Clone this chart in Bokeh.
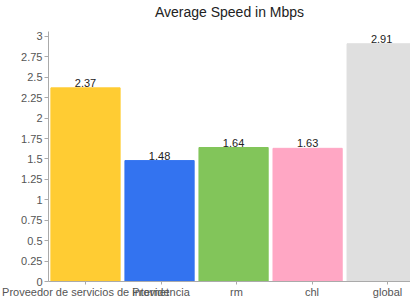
from bokeh.plotting import figure
from bokeh.models import Range1d, FixedTicker, ColumnDataSource, LinearAxis
from bokeh.core.properties import value
from bokeh.embed import file_html
from bokeh.resources import INLINE

title_text = "Average Speed in Mbps"
categories = ["Proveedor de servicios de internet", "Providencia", "rm", "chl", "global"]
speeds = [2.37, 1.48, 1.64, 1.63, 2.91]
colors = ["#FFCC33", "#3373F0", "#82C55A", "#FFA7C4", "#DFDFDF"]
y_ticks = [0, 0.25, 0.5, 0.75, 1, 1.25, 1.5, 1.75, 2, 2.25, 2.5, 2.75, 3]

xs = list(range(len(categories)))
labels = ["%.2f" % v for v in speeds]
src = ColumnDataSource(dict(x=xs, top=speeds, color=colors, label=labels))

p = figure(width=410, height=300, output_backend="svg", toolbar_location=None,
           x_range=Range1d(-0.5, 4.39), y_range=Range1d(0, 3.06),
           min_border_left=48, min_border_right=0, min_border_bottom=19, min_border_top=31)

# title drawn as the label of an empty axis above the frame
top_axis = LinearAxis(axis_label=title_text, ticker=FixedTicker(ticks=[]),
                      axis_line_color=None, major_tick_line_color=None,
                      minor_tick_line_color=None, major_tick_out=0, major_tick_in=0,
                      major_label_text_font_size="0px", major_label_standoff=0,
                      axis_label_standoff=12, axis_label_text_font="Liberation Sans",
                      axis_label_text_font_size="14px", axis_label_text_font_style="normal",
                      axis_label_text_color="#222222")
p.add_layout(top_axis, "above")

p.vbar(x="x", top="top", width=0.935, bottom=0, color="color", source=src)
p.text(x="x", y="top", text="label", source=src, text_align="center", text_baseline="bottom",
       y_offset=-1, text_font=value("Liberation Sans"), text_font_size="11px", text_color="#222222")

p.grid.visible = False
p.outline_line_color = None
p.background_fill_color = "white"
p.border_fill_color = "white"

tick_pos = [i * 1.02 for i in xs]
xaxis = p.below[0]
xaxis.ticker = FixedTicker(ticks=tick_pos)
xaxis.major_label_overrides = {t: c for t, c in zip(tick_pos, categories)}
xaxis.minor_tick_line_color = None
xaxis.major_tick_in = 0
xaxis.major_tick_out = 3
xaxis.major_label_standoff = 1

yaxis = p.left[0]
yaxis.ticker = FixedTicker(ticks=y_ticks)
yaxis.major_label_overrides = {t: ("%g" % t) for t in y_ticks}
yaxis.minor_tick_line_color = None
yaxis.major_tick_in = 0
yaxis.major_tick_out = 4
yaxis.major_label_standoff = 2

for ax in (xaxis, yaxis):
    ax.axis_line_color = "#AAAAAA"
    ax.major_tick_line_color = "#AAAAAA"
    ax.major_label_text_font = "Liberation Sans"
    ax.major_label_text_font_size = "11px"
    ax.major_label_text_color = "#555555"

open("out.html", "w").write(file_html(p, INLINE))
